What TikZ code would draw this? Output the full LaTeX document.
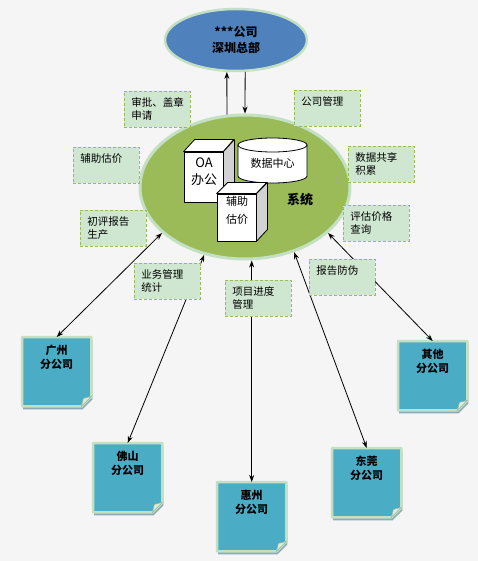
\documentclass[tikz,border=0pt]{standalone}
\usepackage{fontspec}
\setmainfont{Noto Sans CJK SC}
\usetikzlibrary{arrows.meta,shapes.geometric,calc}
\definecolor{bggray}{HTML}{F5F5F5}
\definecolor{hqblue}{HTML}{4F81BD}
\definecolor{rimgreen}{HTML}{C3E0C3}
\definecolor{sysgreen}{HTML}{9BBB59}
\definecolor{tagfill}{HTML}{CFE7D1}
\definecolor{tagline}{HTML}{9BBB59}
\definecolor{branchblue}{HTML}{4BACC6}
\definecolor{shadowgray}{HTML}{8EA9B8}
\definecolor{sidegray}{HTML}{D2D2D2}

\tikzset{
  tag/.style={anchor=north west, fill=tagfill, draw=tagline, line width=0.8pt,
    dash pattern=on 3pt off 2pt, text width=52pt, align=left,
    inner xsep=7pt, inner ysep=4pt, text height=11pt, text depth=17pt,
    font=\fontsize{10.5}{13}\selectfont},
  branch/.style={anchor=north west, minimum width=69pt, minimum height=69pt,
    inner sep=0pt, text width=69pt, text height=17pt, text depth=52pt, align=center,
    font=\fontsize{11}{14}\selectfont\bfseries},
  cubeline/.style={draw=black, line width=0.8pt, line join=round},
  notebox/.style={draw=rimgreen, line width=2.5pt, fill=branchblue, line join=round},
  link/.style={line width=0.8pt}
}
\newcommand{\notepath}[2]{%
  ($(#1.north west)+(#2)$) -- ($(#1.north east)+(#2)$) -- ($(#1.south east)+(0,-10)+(#2)$)
  -- ($(#1.south east)+(-10,0)+(#2)$) -- ($(#1.south west)+(#2)$) -- cycle}
\newcommand{\branchnote}[3]{%
  \node[branch] (#1) at (#2) {};
  \fill[shadowgray] \notepath{#1}{1,3};
  \draw[notebox] \notepath{#1}{0,0};
  \filldraw[fill=rimgreen!60!white, draw=rimgreen!80!black, line width=0.5pt]
    ($(#1.south east)+(0,-10)$) -- ($(#1.south east)+(-10,0)$) -- ($(#1.south east)+(-8,-8)$) -- cycle;
  \node[branch] (#1txt) at (#2) {#3};
}

\begin{document}
\begin{tikzpicture}[x=1pt, y=-1pt, >={Stealth[length=7pt,width=5pt]}]
\fill[bggray] (0,0) rectangle (478,561);
\useasboundingbox (0,0) rectangle (478,561);

% head office and the system
\node[ellipse, fill=hqblue, draw=rimgreen, line width=2.5pt, minimum width=142pt,
  minimum height=62pt, inner sep=0pt, align=center,
  font=\fontsize{12}{16}\selectfont\bfseries] (hq) at (236,40) {***公司\\深圳总部};
\node[ellipse, fill=sysgreen, draw=rimgreen, line width=3pt, minimum width=210pt,
  minimum height=144pt] (sys) at (245,187) {};

% data centre
\draw[cubeline, fill=white] (238,145) -- (238,176) arc[start angle=180, end angle=0,
  x radius=34.5, y radius=7] -- (307,145) -- cycle;
\draw[cubeline, fill=white] (272.5,145) ellipse[x radius=34.5, y radius=7];
\node[font=\fontsize{11}{13}\selectfont] (dc) at (272.5,163) {数据中心};

% OA cube
\node[cubeline, fill=white, minimum width=39pt, minimum height=50pt] (oa) at (203.5,177) {};
\draw[cubeline, fill=white] (oa.north west) -- ++(11,-12) -- ++(39,0) -- (oa.north east) -- cycle;
\draw[cubeline, fill=sidegray] (oa.north east) -- ++(11,-12) -- ++(0,50) -- (oa.south east) -- cycle;
\node[align=center, font=\fontsize{13}{17}\selectfont] (oalbl) at (204,172) {OA\\办公};

% valuation cube
\node[cubeline, fill=white, minimum width=39pt, minimum height=47pt] (fz) at (236.5,217.5) {};
\draw[cubeline, fill=white] (fz.north west) -- ++(11,-11) -- ++(39,0) -- (fz.north east) -- cycle;
\draw[cubeline, fill=sidegray] (fz.north east) -- ++(11,-11) -- ++(0,47) -- (fz.south east) -- cycle;
\node[align=center, font=\fontsize{11}{18}\selectfont] (fzlbl) at (237,210) {辅助\\估价};

\node[font=\fontsize{13}{16}\selectfont\bfseries] (systxt) at (300,200) {系统};

% branches
\branchnote{gz}{22,337}{广州\\分公司}
\branchnote{fs}{93,443}{佛山\\分公司}
\branchnote{hz}{217,482}{惠州\\分公司}
\branchnote{dg}{332,448}{东莞\\分公司}
\branchnote{qt}{398,341}{其他\\分公司}

\draw[link, ->] (sys.104) -- (hq.254);
\draw[link, ->] (hq.286) -- (sys.north);
\draw[link, <->] (gz.north) -- (sys.209);
\draw[link, <->] (fs.north) -- (sys.239);
\draw[link, <->] (hz.north) -- (hz.north |- sys.south);
\draw[link, <->] (dg.north) -- (sys.307);
\draw[link, <->] (qt.north) -- (sys.331);

% functions
\node[tag] (t1) at (124,91) {审批、盖章\\申请};
\node[tag] (t2) at (73,147) {辅助估价};
\node[tag] (t3) at (294,90) {公司管理};
\node[tag] (t4) at (348,146) {数据共享\\积累};
\node[tag] (t5) at (80,210) {初评报告\\生产};
\node[tag] (t6) at (134,263) {业务管理\\统计};
\node[tag] (t7) at (225,280) {项目进度\\管理};
\node[tag] (t8) at (343,205) {评估价格\\查询};
\node[tag] (t9) at (309,259) {报告防伪};
\end{tikzpicture}
\end{document}
